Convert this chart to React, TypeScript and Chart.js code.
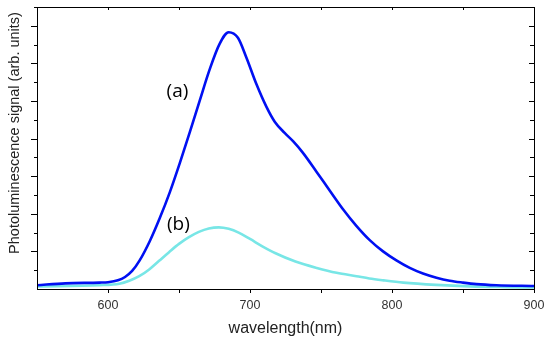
import React, { useEffect, useRef } from "react";
import { Chart, registerables } from "chart.js";

Chart.register(...registerables);

// Curve (a)
const WAVELENGTH_A = [550, 570, 594, 600, 607, 612, 617, 622.3, 629.4, 636.4, 643.5, 650.5, 657.5, 664.6, 671.6, 678.6, 685, 691.5, 697.5, 704.5, 711.5, 717.4, 724.4, 730.3, 737.3, 746.8, 756.1, 765.5, 774.9, 784.3, 793.7, 803.1, 812.5, 821.8, 831.3, 840.6, 850, 859.4, 873.5, 900];
const SIGNAL_A = [0.1, 0.15, 0.17, 0.18, 0.23, 0.32, 0.48, 0.76, 1.27, 1.88, 2.57, 3.34, 4.16, 5.01, 5.84, 6.52, 6.83, 6.68, 6.15, 5.45, 4.85, 4.45, 4.15, 3.93, 3.62, 3.12, 2.62, 2.12, 1.68, 1.3, 1.0, 0.76, 0.56, 0.41, 0.3, 0.22, 0.17, 0.13, 0.1, 0.08];

// Curve (b)
const WAVELENGTH_B = [550, 594, 608, 615, 622, 629, 636, 643, 650, 657, 664, 671, 678, 685, 692, 700, 709, 718, 732, 747, 761, 775, 784, 794, 808, 831, 855, 880, 900];
const SIGNAL_B = [0.07, 0.1, 0.14, 0.22, 0.34, 0.52, 0.75, 0.98, 1.2, 1.38, 1.52, 1.61, 1.64, 1.6, 1.5, 1.33, 1.13, 0.95, 0.73, 0.56, 0.43, 0.34, 0.28, 0.23, 0.17, 0.11, 0.07, 0.05, 0.04];

const X_LABELED_TICKS = [600, 700, 800, 900];
const X_MINOR_TICKS = [650, 750, 850];
const Y_MAJOR_TICKS = [1, 2, 3, 4, 5, 6, 7];
const Y_MINOR_TICKS = [0.5, 1.5, 2.5, 3.5, 4.5, 5.5, 6.5, 7.5];

const CURVE_LABELS = ["(a)", "(b)"];
const CURVE_LABEL_X = [648.9, 649.6];
const CURVE_LABEL_Y = [5.24, 1.7];

const X_TITLE = "wavelength(nm)";
const Y_TITLE = "Photoluminescence signal (arb. units)";

const framePlugin = {
  id: "frameTicks",
  afterDraw(chart: any) {
    const { ctx, chartArea: a, scales } = chart;
    const xs = scales.x;
    const ys = scales.y;
    ctx.save();
    ctx.strokeStyle = "#000";
    ctx.lineWidth = 1;
    ctx.strokeRect(Math.round(a.left) + 0.5, Math.round(a.top) + 0.5, Math.round(a.right - a.left), Math.round(a.bottom - a.top));
    ctx.beginPath();
    const xt = [...X_LABELED_TICKS, ...X_MINOR_TICKS];
    for (const v of xt) {
      const px = Math.round(xs.getPixelForValue(v)) + 0.5;
      ctx.moveTo(px, a.bottom);
      ctx.lineTo(px, a.bottom + 4);
      ctx.moveTo(px, a.top);
      ctx.lineTo(px, a.top + 3);
    }
    for (const v of Y_MAJOR_TICKS) {
      const py = Math.round(ys.getPixelForValue(v)) + 0.5;
      ctx.moveTo(a.left, py);
      ctx.lineTo(a.left - 6, py);
      ctx.moveTo(a.right, py);
      ctx.lineTo(a.right - 5, py);
    }
    for (const v of Y_MINOR_TICKS) {
      const py = Math.round(ys.getPixelForValue(v)) + 0.5;
      ctx.moveTo(a.left, py);
      ctx.lineTo(a.left - 3, py);
      ctx.moveTo(a.right, py);
      ctx.lineTo(a.right - 4, py);
    }
    ctx.stroke();

    // curve labels
    ctx.fillStyle = "#000";
    ctx.font = "19px 'Open Sans', sans-serif";
    ctx.textAlign = "center";
    ctx.textBaseline = "middle";
    CURVE_LABELS.forEach((t, i) => {
      ctx.fillText(t, xs.getPixelForValue(CURVE_LABEL_X[i]), ys.getPixelForValue(CURVE_LABEL_Y[i]));
    });

    // y title
    ctx.font = "14.5px 'Liberation Sans', Arial, sans-serif";
    ctx.fillStyle = "#222";
    ctx.translate(15, 133);
    ctx.rotate(-Math.PI / 2);
    ctx.fillText(Y_TITLE, 0, 0);
    ctx.restore();
  },
};

export default function App() {
  const ref = useRef<HTMLCanvasElement | null>(null);
  useEffect(() => {
    document.body.style.margin = "0";
    const canvas = ref.current;
    if (!canvas) return;
    const chart = new Chart(canvas, {
      type: "line",
      data: {
        datasets: [
          {
            label: "(a)",
            data: WAVELENGTH_A.map((x, i) => ({ x, y: SIGNAL_A[i] })),
            borderColor: "#0010f2",
            borderWidth: 2.6,
            pointRadius: 0,
            cubicInterpolationMode: "monotone",
            fill: false,
          },
          {
            label: "(b)",
            data: WAVELENGTH_B.map((x, i) => ({ x, y: SIGNAL_B[i] })),
            borderColor: "#78e6e6",
            borderWidth: 2.6,
            pointRadius: 0,
            cubicInterpolationMode: "monotone",
            fill: false,
          },
        ],
      },
      options: {
        responsive: false,
        animation: false,
        devicePixelRatio: 1,
        layout: { padding: { top: 7, right: 16, left: 0, bottom: 0 } },
        plugins: { legend: { display: false }, tooltip: { enabled: false } },
        scales: {
          x: {
            type: "linear",
            min: 550,
            max: 900,
            grid: { display: false },
            border: { display: false },
            afterBuildTicks: (s: any) => {
              s.ticks = X_LABELED_TICKS.map((v) => ({ value: v }));
            },
            afterFit: (s: any) => {
              s.height = 54;
            },
            ticks: {
              autoSkip: false,
              maxRotation: 0,
              padding: 1,
              color: "#333",
              font: { family: "'Liberation Sans', Arial, sans-serif", size: 12.5 },
            },
            title: {
              display: true,
              text: X_TITLE,
              color: "#222",
              padding: { top: 0, bottom: 5 },
              font: { family: "'Liberation Sans', Arial, sans-serif", size: 16 },
            },
          },
          y: {
            type: "linear",
            min: 0,
            max: 7.5,
            grid: { display: false },
            border: { display: false },
            ticks: { display: false },
            afterFit: (s: any) => {
              s.width = 37;
            },
          },
        },
      },
      plugins: [framePlugin],
    } as any);
    return () => chart.destroy();
  }, []);
  return <canvas ref={ref} width={550} height={343} style={{ display: "block" }} />;
}
